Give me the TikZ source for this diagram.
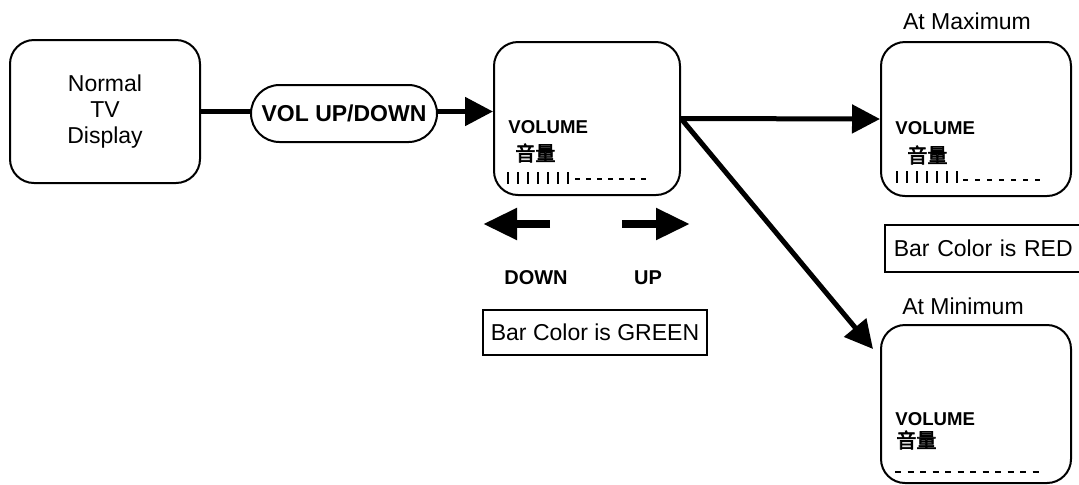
\documentclass[tikz,border=0pt]{standalone}
\usepackage{fontspec}
\setmainfont{Liberation Sans}
\newfontfamily\cjk{Noto Sans CJK SC}[AutoFakeBold=3]
\usepackage{tikz}
\usetikzlibrary{arrows.meta,positioning,calc,shapes.misc}

\begin{document}
\begin{tikzpicture}[x=0.5pt, y=-0.5pt,
    screen/.style={draw, line width=1pt, rounded corners=12pt, minimum width=95pt, minimum height=77pt},
    txt/.style={font=\fontsize{11.5}{13}\selectfont},
    vol/.style={font=\fontsize{9.3}{11}\selectfont\bfseries, anchor=west, inner sep=0pt},
    yin/.style={font=\fontsize{10}{11}\cjk\bfseries, anchor=west, inner sep=0pt},
    tag/.style={draw, line width=0.8pt, font=\fontsize{11.5}{13}\selectfont, inner sep=0pt},
    flow/.style={line width=2.5pt, -{Triangle[length=14pt,width=14pt]}},
    big/.style={line width=4pt, -{Triangle[length=17pt,width=15pt]}},
    bar/.style={line width=1pt}]

    \useasboundingbox (0,0) rectangle (1079,484);

    % Screens
    \node[screen, txt, align=center, minimum height=71.5pt] (normal) at (105,111.5) {Normal\\TV\\Display};
    \node[screen, minimum width=93pt, minimum height=76.5pt] (mid) at (587,118.5) {};
    \node[screen] (max) at (976,119) {};
    \node[screen, minimum height=79pt] (min) at (976,404) {};

    % Titles
    \node[txt] (maxtitle) at (967,21) {At Maximum};
    \node[txt] (mintitle) at (963,306) {At Minimum};

    % Screen contents
    \node[vol] (midvol) at (508,127) {VOLUME};
    \node[yin] (midyin) at (515,153) {音量};
    \node[vol] (maxvol) at (895,128) {VOLUME};
    \node[yin] (maxyin) at (907,155) {音量};
    \node[vol] (minvol) at (895,419) {VOLUME};
    \node[yin] (minyin) at (896,440) {音量};

    % Volume bars
    \foreach \i in {0,...,6} {
        \draw[bar] ({508+10*\i},172) -- ++(0,12);
        \draw[bar] ({897+10*\i},171) -- ++(0,12);
    }
    \foreach \i in {0,...,6} {
        \draw[bar] ({575+11*\i},179) -- ++(5,0);
        \draw[bar] ({963+12*\i},180) -- ++(5,0);
    }
    \foreach \i in {0,...,11}
        \draw[bar] ({895+12.5*\i},472) -- ++(6,0);

    % Transitions
    \draw[flow] (normal.east) -- (normal.east -| mid.west);
    \node[draw, line width=1pt, rounded rectangle, fill=white, minimum width=93pt, minimum height=28.5pt,
          inner sep=0pt, font=\fontsize{11.5}{13}\selectfont\bfseries] (key) at (344,113.5) {VOL UP/DOWN};
    \draw[flow] (mid.east) -- (max.west);
    \coordinate (mintip) at (873,349);
    \draw[flow] (mid.east) -- (mintip);

    % Down / up
    \coordinate (dnfrom) at (550,224);
    \coordinate (dnto) at (483,224);
    \coordinate (upfrom) at (622,224);
    \coordinate (upto) at (690,224);
    \draw[big] (dnfrom) -- (dnto);
    \draw[big] (upfrom) -- (upto);
    \node[font=\fontsize{10}{12}\selectfont\bfseries] (down) at (536,278) {DOWN};
    \node[font=\fontsize{10}{12}\selectfont\bfseries] (up) at (648,278) {UP};

    % Bar colours
    \node[tag, minimum width=112pt, minimum height=22.5pt] (green) at (595,332.5) {Bar Color is GREEN};
    \node[tag, anchor=west, minimum width=103pt, minimum height=23.5pt, text width=95pt, align=left,
          inner xsep=4.5pt] (red) at (884,248.5) {Bar Color is RED};

\end{tikzpicture}
\end{document}
